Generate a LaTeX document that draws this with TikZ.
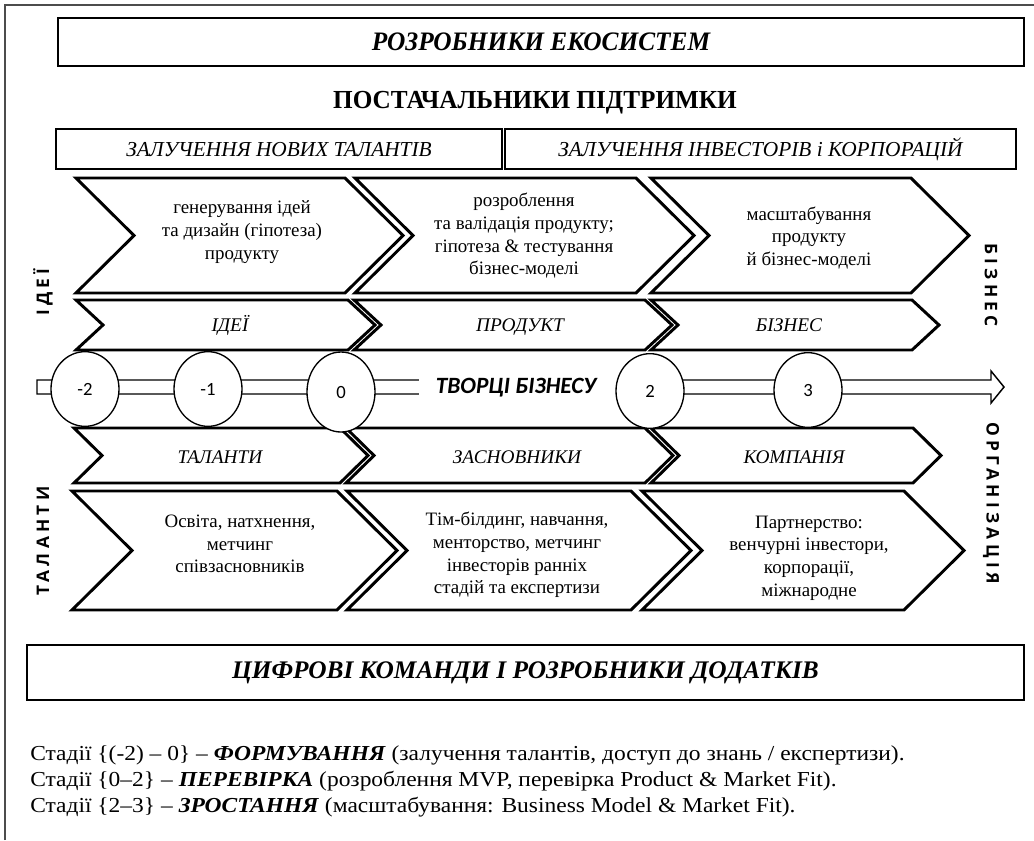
\documentclass[tikz,border=0pt]{standalone}
\usepackage{fontspec}
\usepackage{graphicx}
\setmainfont{Liberation Serif}
\newfontfamily\sansf{Carlito}
\newfontfamily\vlabf[LetterSpace=25]{Open Sans}
\usetikzlibrary{shapes.geometric}
\newcommand\chevshape[5]{\draw[chev] (#1,#3) -- (#2,#3) -- ({#2+#5},{(#3+#4)/2}) -- (#2,#4) -- (#1,#4) -- ({#1+#5},{(#3+#4)/2}) -- cycle;}
\tikzset{
  chev/.style={line width=2.2pt, line join=miter, fill=white},
  ctext/.style={align=center, font=\fontsize{14.2}{17}\selectfont, inner sep=0pt},
  rtext/.style={font=\fontsize{14.5}{16}\selectfont\itshape, inner sep=0pt, text height=9.5pt, text depth=0pt},
  bigbox/.style={draw, line width=2.2pt, inner sep=0pt},
  thinbox/.style={draw, line width=0.8pt, inner sep=0pt},
  boxtext/.style={text height=10.5pt, text depth=0pt, font=\fontsize{16}{18}\selectfont\itshape},
  stage/.style={draw, ellipse, fill=white, line width=1pt, inner sep=0pt,
     minimum width=51pt, minimum height=56pt, font=\sansf\fontsize{14}{16}\selectfont},
  vlabel/.style={font=\vlabf\bfseries\fontsize{13}{15}\selectfont, inner sep=0pt},
  foot/.style={anchor=west, inner sep=0pt, font=\fontsize{16}{18}\selectfont},
}
\begin{document}
\begin{tikzpicture}[x=0.75pt,y=-0.75pt]
\path[use as bounding box] (0,0) rectangle (1034,840);
\draw[black!70, line width=1.1pt] (5,840) -- (5,5) -- (1034,5);

% top box
\node[bigbox, minimum width=724.5pt, minimum height=36pt,
  font=\fontsize{20}{22}\selectfont\bfseries\itshape] (eco) at (541,42) {\scalebox{0.95}[1]{РОЗРОБНИКИ ЕКОСИСТЕМ}};
\node[font=\fontsize{19.5}{22}\selectfont\bfseries, inner sep=0pt] (supp) at (535,103) {\scalebox{0.97}[1]{ПОСТАЧАЛЬНИКИ ПІДТРИМКИ}};
\node[thinbox, boxtext, minimum width=334.5pt, minimum height=30pt] (tal) at (279,149) {ЗАЛУЧЕННЯ НОВИХ ТАЛАНТІВ};
\node[thinbox, boxtext, minimum width=383.25pt, minimum height=30pt] (inv) at (760.5,149) {ЗАЛУЧЕННЯ ІНВЕСТОРІВ і КОРПОРАЦІЙ};

% row 1
\chevshape{76}{345}{178}{293}{58}
\chevshape{355}{636}{178}{293}{58}
\chevshape{651}{911}{178}{293}{58}
\node[ctext] (r1a) at (242,232) {генерування ідей\\та дизайн (гіпотеза)\\продукту};
\node[ctext] (r1b) at (524,236) {розроблення\\та валідація продукту;\\гіпотеза \& тестування\\бізнес-моделі};
\node[ctext] (r1c) at (809,238) {масштабування\\продукту\\й бізнес-моделі};

% row 2
\chevshape{76}{348}{300}{350}{27}
\chevshape{354}{645}{300}{350}{27}
\chevshape{651}{912}{300}{350}{27}
\node[rtext] (r2a) at (230,325) {ІДЕЇ};
\node[rtext] (r2b) at (520,325) {ПРОДУКТ};
\node[rtext] (r2c) at (789,325) {БІЗНЕС};

% row 4
\chevshape{74}{340}{428}{483}{28}
\chevshape{346}{645}{428}{483}{28}
\chevshape{651}{913}{428}{483}{28}
\node[rtext] (r4a) at (220,457) {ТАЛАНТИ};
\node[rtext] (r4b) at (517,457) {ЗАСНОВНИКИ};
\node[rtext] (r4c) at (794,457) {КОМПАНІЯ};

% row 5
\chevshape{72}{337}{491}{610}{60}
\chevshape{347}{631}{491}{610}{60}
\chevshape{642}{904}{491}{610}{60}
\node[ctext] (r5a) at (240,544) {Освіта, натхнення,\\метчинг\\співзасновників};
\node[ctext] (r5b) at (517,555) {Тім-білдинг, навчання,\\менторство, метчинг\\інвесторів ранніх\\стадій та експертизи};
\node[ctext] (r5c) at (809,558) {Партнерство:\\венчурні інвестори,\\корпорації,\\міжнародне};

% timeline bar
\draw[line width=1.1pt, fill=white, line join=miter] (37,380) -- (991,380) -- (991,371) -- (1004,387) -- (991,403) -- (991,394) -- (37,394) -- cycle;
\fill[white] (418.5,378) rectangle (630,396);
\node[font=\sansf\bfseries\itshape\fontsize{17.5}{19}\selectfont, inner sep=0pt] (creators) at (516,388) {ТВОРЦІ БІЗНЕСУ};
\node[stage] (s-2) at (85,389) {-2};
\node[stage] (s-1) at (208,389) {-1};
\node[stage, minimum height=60pt] (s0) at (341,392) {0};
\node[stage] (s2) at (650,391) {2};
\node[stage] (s3) at (808,390) {3};

% vertical labels
\node[vlabel, rotate=90] (lid) at (43,292) {ІДЕЇ};
\node[vlabel, rotate=90] (ltal) at (43,541) {ТАЛАНТИ};
\node[vlabel, rotate=-90] (lbiz) at (991,285) {БІЗНЕС};
\node[vlabel, rotate=-90] (lorg) at (991,503) {ОРГАНІЗАЦІЯ};

% bottom box
\node[bigbox, minimum width=747.75pt, minimum height=41.25pt,
  font=\fontsize{19}{22}\selectfont\bfseries\itshape] (dig) at (525.5,672.5) {ЦИФРОВІ КОМАНДИ І РОЗРОБНИКИ ДОДАТКІВ};

% footer
\node[foot] (f1) at (30,755) {\scalebox{1.1}[1]{Стадії \{(-2) – 0\} – \textbf{\textit{ФОРМУВАННЯ}} (залучення талантів, доступ до знань / експертизи).}};
\node[foot] (f2) at (30,781) {\scalebox{1.1}[1]{Стадії \{0–2\} – \textbf{\textit{ПЕРЕВІРКА}} (розроблення MVP, перевірка Product \& Market Fit).}};
\node[foot] (f3) at (30,807) {\scalebox{1.1}[1]{Стадії \{2–3\} – \textbf{\textit{ЗРОСТАННЯ}} (масштабування: Business Model \& Market Fit).}};
\end{tikzpicture}
\end{document}
